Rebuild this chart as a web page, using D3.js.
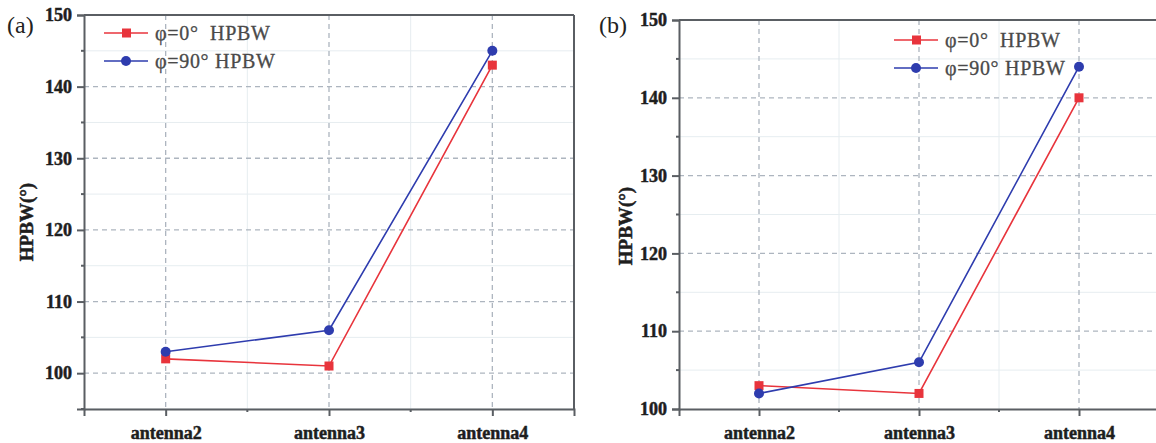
<!DOCTYPE html>
<html>
<head>
<meta charset="utf-8">
<script src="https://cdn.jsdelivr.net/npm/d3@7"></script>
<style>
  body { margin: 0; background: #fff; }
  svg { display: block; }
</style>
</head>
<body>
<svg id="chart" width="1156" height="443"></svg>
<script>
// categories and series
const categories = ["antenna2", "antenna3", "antenna4"];
const seriesNames = ["φ=0°  HPBW", "φ=90° HPBW"];
const aPhi0 = [102, 101, 143];
const aPhi90 = [103, 106, 145];
const bPhi0 = [103, 102, 140];
const bPhi90 = [102, 106, 144];
const aYTicks = [100, 110, 120, 130, 140, 150];
const bYTicks = [100, 110, 120, 130, 140, 150];

const RED = "#e8343c", BLUE = "#2e3cae";
const serif = "'Liberation Serif', 'Times New Roman', Times, serif";

const svg = d3.select("#chart");

function panel({ label, labelX, left, right, top, bottom, yDomain, yTicks, phi0, phi90, legendX, legendY, titleX, titleY }) {
    const g = svg.append("g");
    const x = d3.scaleLinear().domain([0.5, categories.length + 0.5]).range([left, right]);
    const y = d3.scaleLinear().domain(yDomain).range([bottom, top]);

    // minor grid (faint, solid)
    const yMinor = d3.range(yDomain[0], yDomain[1] + 0.1, 5).filter(v => v % 10 !== 0);
    const xMinor = d3.range(1.5, categories.length + 0.5, 1);
    g.selectAll(".ymin").data(yMinor).join("line")
        .attr("x1", left).attr("x2", right).attr("y1", d => y(d)).attr("y2", d => y(d))
        .attr("stroke", "#e6edf0").attr("stroke-width", 1);
    g.selectAll(".xmin").data(xMinor).join("line")
        .attr("x1", d => x(d)).attr("x2", d => x(d)).attr("y1", top).attr("y2", bottom)
        .attr("stroke", "#e6edf0").attr("stroke-width", 1);

    // major grid (dashed)
    g.selectAll(".ymaj").data(yTicks.filter(v => v > yDomain[0] && v < yDomain[1])).join("line")
        .attr("x1", left).attr("x2", right).attr("y1", d => y(d)).attr("y2", d => y(d))
        .attr("stroke", "#adb5bf").attr("stroke-width", 1.3).attr("stroke-dasharray", "5,4");
    g.selectAll(".xmaj").data(categories).join("line")
        .attr("x1", (d, i) => x(i + 1)).attr("x2", (d, i) => x(i + 1))
        .attr("y1", top).attr("y2", bottom)
        .attr("stroke", "#adb5bf").attr("stroke-width", 1.3).attr("stroke-dasharray", "5,4");

    // frame
    g.append("line").attr("x1", left).attr("x2", right).attr("y1", top).attr("y2", top)
        .attr("stroke", "#5a5e63").attr("stroke-width", 2);
    g.append("line").attr("x1", right).attr("x2", right).attr("y1", top).attr("y2", bottom)
        .attr("stroke", "#5a5e63").attr("stroke-width", 2);

    // y axis
    const yAxis = d3.axisLeft(y).tickValues(yTicks).tickSize(7).tickPadding(5).tickFormat(d3.format("d"));
    const ya = g.append("g").attr("transform", `translate(${left},0)`).call(yAxis);
    ya.select(".domain").attr("stroke", "#5a5e63").attr("stroke-width", 2);
    ya.selectAll(".tick line").attr("stroke", "#5a5e63").attr("stroke-width", 2);
    ya.selectAll(".tick text").attr("font-family", serif).attr("font-weight", "bold")
        .attr("font-size", 18).attr("fill", "#1e1e1e")
        .attr("stroke", "#1e1e1e").attr("stroke-width", 0.5);
    g.selectAll(".yminTick").data(yMinor).join("line")
        .attr("x1", left - 3).attr("x2", left).attr("y1", d => y(d)).attr("y2", d => y(d))
        .attr("stroke", "#5a5e63").attr("stroke-width", 2);

    // x axis
    const xAxis = d3.axisBottom(x).tickValues(categories.map((c, i) => i + 1))
        .tickFormat((d, i) => categories[i]).tickSize(7).tickPadding(10);
    const xa = g.append("g").attr("transform", `translate(0,${bottom})`).call(xAxis);
    xa.select(".domain").attr("stroke", "#5a5e63").attr("stroke-width", 2);
    xa.selectAll(".tick line").attr("stroke", "#5a5e63").attr("stroke-width", 2);
    xa.selectAll(".tick text").attr("font-family", serif).attr("font-weight", "bold")
        .attr("font-size", 18).attr("fill", "#1e1e1e")
        .attr("stroke", "#1e1e1e").attr("stroke-width", 0.5);
    g.selectAll(".xminTick").data(xMinor).join("line")
        .attr("x1", d => x(d)).attr("x2", d => x(d)).attr("y1", bottom).attr("y2", bottom + 3)
        .attr("stroke", "#5a5e63").attr("stroke-width", 2);

    // y title
    g.append("text").attr("transform", `translate(${titleX},${titleY}) rotate(-90)`)
        .attr("text-anchor", "middle").attr("font-family", serif).attr("font-weight", "bold")
        .attr("font-size", 19).attr("fill", "#1e1e1e")
        .attr("stroke", "#1e1e1e").attr("stroke-width", 0.5).text("HPBW(°)");

    // panel label
    svg.append("text").attr("x", labelX).attr("y", 33).attr("font-family", serif)
        .attr("font-size", 24).attr("fill", "#222").text(label);

    // series
    const line = d3.line().x((d, i) => x(i + 1)).y(d => y(d));
    g.append("path").datum(phi0).attr("d", line).attr("fill", "none")
        .attr("stroke", RED).attr("stroke-width", 1.6);
    g.append("path").datum(phi90).attr("d", line).attr("fill", "none")
        .attr("stroke", BLUE).attr("stroke-width", 1.6);
    g.selectAll(".sq").data(phi0).join("rect")
        .attr("x", (d, i) => x(i + 1) - 4.5).attr("y", d => y(d) - 4.5)
        .attr("width", 9).attr("height", 9).attr("fill", RED);
    g.selectAll(".ci").data(phi90).join("circle")
        .attr("cx", (d, i) => x(i + 1)).attr("cy", d => y(d)).attr("r", 5).attr("fill", BLUE);

    // legend
    const lg = g.append("g").attr("transform", `translate(${legendX},${legendY})`);
    seriesNames.forEach((name, i) => {
        const row = lg.append("g").attr("transform", `translate(0,${i * 28})`);
        const c = i === 0 ? RED : BLUE;
        row.append("line").attr("x1", 0).attr("x2", 44).attr("y1", 0).attr("y2", 0)
            .attr("stroke", c).attr("stroke-width", 1.6);
        if (i === 0) row.append("rect").attr("x", 18).attr("y", -4.5).attr("width", 9).attr("height", 9).attr("fill", c);
        else row.append("circle").attr("cx", 22).attr("cy", 0).attr("r", 5).attr("fill", c);
        row.append("text").attr("x", 51).attr("y", 7).attr("font-family", serif)
            .attr("font-size", 20).attr("letter-spacing", 0.7).attr("fill", "#4a4a4a")
            .attr("stroke", "#4a4a4a").attr("stroke-width", 0.3)
            .style("white-space", "pre").text(name);
    });
}

panel({ label: "(a)", labelX: 7, left: 84, right: 574, top: 15, bottom: 409,
    yDomain: [95, 150], yTicks: aYTicks, phi0: aPhi0, phi90: aPhi90,
    legendX: 104, legendY: 33, titleX: 33, titleY: 222 });

panel({ label: "(b)", labelX: 599, left: 679, right: 1159, top: 20, bottom: 409,
    yDomain: [100, 150], yTicks: bYTicks, phi0: bPhi0, phi90: bPhi90,
    legendX: 894, legendY: 40, titleX: 632, titleY: 226 });
</script>
</body>
</html>
